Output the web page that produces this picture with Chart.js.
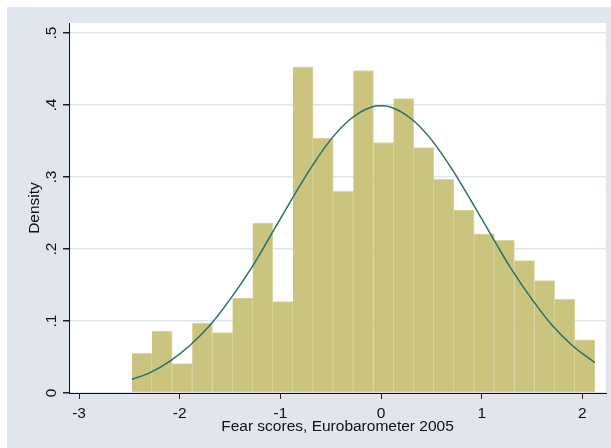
<!DOCTYPE html>
<html>
<head>
<meta charset="utf-8">
<script src="https://cdn.jsdelivr.net/npm/chart.js@4/dist/chart.umd.min.js"></script>
<style>
  html, body { margin: 0; padding: 0; background: #fff; }
  canvas { display: block; }
</style>
</head>
<body>
<canvas id="hist" width="611" height="448"></canvas>
<script>
/* =========================
   DATA
========================= */

// histogram bins (centres, width 0.2)
const binCenters = [
  -2.375, -2.175, -1.975, -1.775, -1.575, -1.375, -1.175, -0.975,
  -0.775, -0.575, -0.375, -0.175, 0.025, 0.225, 0.425, 0.625,
  0.825, 1.025, 1.225, 1.425, 1.625, 1.825, 2.025
];
const densities = [
  0.055, 0.086, 0.041, 0.097, 0.084, 0.132, 0.236, 0.127,
  0.453, 0.354, 0.280, 0.448, 0.348, 0.409, 0.341, 0.297,
  0.254, 0.221, 0.212, 0.184, 0.156, 0.130, 0.074
];

// normal density curve
const curveX = [
  -2.475, -2.3, -2.1, -1.9, -1.7, -1.5, -1.3, -1.1, -0.9, -0.7, -0.5, -0.3, -0.1,
  0, 0.1, 0.3, 0.5, 0.7, 0.9, 1.1, 1.3, 1.5, 1.7, 1.9, 2.125
];
const curveY = [
  0.019, 0.028, 0.044, 0.066, 0.094, 0.130, 0.171, 0.218, 0.266, 0.312, 0.352, 0.381, 0.397,
  0.399, 0.397, 0.381, 0.352, 0.312, 0.266, 0.218, 0.171, 0.130, 0.094, 0.066, 0.042
];

const xTicks = [-3, -2, -1, 0, 1, 2];
const xTickLabels = ["-3", "-2", "-1", "0", "1", "2"];
const yTicks = [0, 0.1, 0.2, 0.3, 0.4, 0.5];
const yTickLabels = ["0", ".1", ".2", ".3", ".4", ".5"];

const xTitle = "Fear scores, Eurobarometer 2005";
const yTitle = "Density";

/* =========================
   STYLE
========================= */

const FONT = "'Liberation Sans', Arial, sans-serif";
const outerBg = "#e1e5ee";
const gridColor = "#dfe4ee";
const barFill = "#cbc47f";
const barEdge = "#dcd8a2";
const curveColor = "#2b6e67";

const backgroundPlugin = {
  id: "bg",
  beforeDraw(chart) {
    const { ctx, chartArea: a } = chart;
    ctx.save();
    ctx.fillStyle = "#ffffff";
    ctx.fillRect(0, 0, chart.width, chart.height);
    ctx.fillStyle = outerBg;
    ctx.fillRect(7, 7, chart.width - 7, chart.height - 7);
    ctx.fillStyle = "#ffffff";
    ctx.fillRect(a.left, a.top, a.right - a.left, a.bottom - a.top);
    ctx.restore();
  }
};

/* =========================
   CHART
========================= */

new Chart(document.getElementById("hist"), {
  type: "bar",
  data: {
    datasets: [
      {
        type: "line",
        data: curveX.map((x, i) => ({ x, y: curveY[i] })),
        borderColor: curveColor,
        borderWidth: 1.5,
        pointRadius: 0,
        cubicInterpolationMode: "monotone",
        fill: false,
        order: 0
      },
      {
        type: "bar",
        data: binCenters.map((x, i) => ({ x, y: densities[i] })),
        backgroundColor: barFill,
        borderColor: barEdge,
        borderWidth: 1,
        borderSkipped: "left",
        barPercentage: 1,
        categoryPercentage: 1,
        order: 1
      }
    ]
  },
  options: {
    responsive: false,
    animation: false,
    devicePixelRatio: 1,
    layout: { padding: { left: 0, top: 23, right: 5, bottom: 0 } },
    plugins: {
      legend: { display: false },
      tooltip: { enabled: false }
    },
    scales: {
      x: {
        type: "linear",
        min: -3.1,
        max: 2.235,
        offset: false,
        afterFit(s) { s.height = 55; },
        afterBuildTicks(s) { s.ticks = xTicks.map(v => ({ value: v })); },
        grid: {
          drawOnChartArea: false,
          offset: false,
          tickLength: 6,
          tickColor: "#222"
        },
        border: { color: "#111", width: 1 },
        ticks: {
          color: "#111",
          padding: 5,
          maxRotation: 0,
          font: { family: FONT, size: 15.5 },
          callback: (v, i) => xTickLabels[i]
        },
        title: {
          display: true,
          text: xTitle,
          color: "#111",
          font: { family: FONT, size: 15.5 },
          padding: { top: 0, bottom: 12 }
        }
      },
      y: {
        type: "linear",
        min: 0,
        max: 0.514,
        afterFit(s) { s.width = 69; },
        afterBuildTicks(s) { s.ticks = yTicks.map(v => ({ value: v })); },
        grid: {
          color: gridColor,
          lineWidth: 1.5,
          tickLength: 6,
          tickColor: "#222"
        },
        border: { color: "#111", width: 1 },
        ticks: {
          color: "#111",
          padding: 5,
          minRotation: 90,
          maxRotation: 90,
          crossAlign: "center",
          font: { family: FONT, size: 15.5 },
          callback: (v, i) => yTickLabels[i]
        },
        title: {
          display: true,
          text: yTitle,
          color: "#111",
          font: { family: FONT, size: 15.5 },
          padding: { top: 25, bottom: 0 }
        }
      }
    }
  },
  plugins: [backgroundPlugin]
});
</script>
</body>
</html>
